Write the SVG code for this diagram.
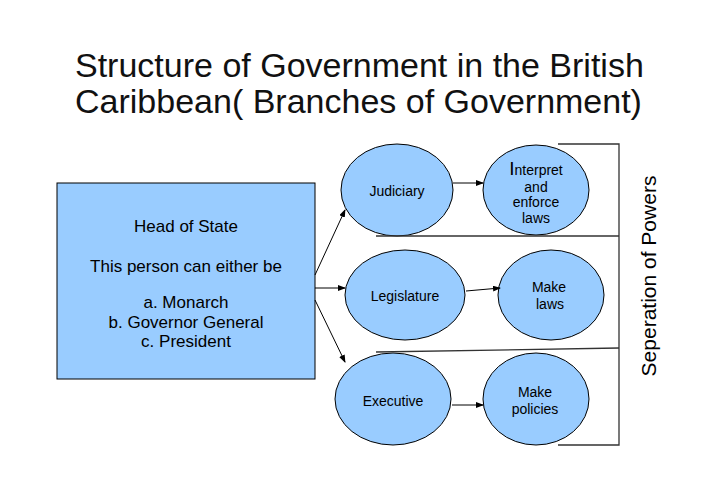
<svg xmlns="http://www.w3.org/2000/svg" width="728" height="485" viewBox="0 0 728 485">
<style>
text{font-family:"Liberation Sans",Arial,sans-serif;fill:#000}
.t{font-size:34px;fill:#111}
.n{font-size:17px;text-anchor:middle}
.s{font-size:14px;text-anchor:middle}
.e{fill:#99ccff;stroke:#000;stroke-width:1}
.c{stroke:#000;stroke-width:1;fill:none;marker-end:url(#a)}
.l{stroke:#333;stroke-width:1.3;fill:none}
</style>
<defs><marker id="a" markerWidth="8" markerHeight="6" refX="7" refY="3" orient="auto" markerUnits="userSpaceOnUse"><path d="M0,0L8,3L0,6z" fill="#000"/></marker></defs>
<rect width="728" height="485" fill="#fff"/>
<text class="t" x="75" y="77">Structure of Government in the British</text>
<text class="t" x="75" y="113">Caribbean( Branches of Government)</text>
<g id="head"><rect x="57" y="183" width="258" height="196" fill="#99ccff" stroke="#000"/>
<text class="n" x="186" y="232">Head of State</text>
<text class="n" x="186" y="272">This person can either be</text>
<text class="n" x="186" y="308">a. Monarch</text>
<text class="n" x="186" y="328">b. Governor General</text>
<text class="n" x="186" y="347">c. President</text></g>
<g id="judiciary"><ellipse class="e" cx="397" cy="190" rx="56" ry="46"/><text class="s" x="397" y="196">Judiciary</text></g>
<g id="interpret"><ellipse class="e" cx="536" cy="190" rx="53" ry="45"/><text class="s" x="536" y="175"><tspan font-size="19">I</tspan>nterpret</text><text class="s" x="536" y="192">and</text><text class="s" x="536" y="207">enforce</text><text class="s" x="536" y="223">laws</text></g>
<g id="legislature"><ellipse class="e" cx="405" cy="295" rx="60" ry="45"/><text class="s" x="405" y="301">Legislature</text></g>
<g id="makelaws"><ellipse class="e" cx="551" cy="295" rx="53" ry="45"/><text class="s" x="549" y="292">Make</text><text class="s" x="550" y="309">laws</text></g>
<g id="executive"><ellipse class="e" cx="393" cy="399" rx="58" ry="46"/><text class="s" x="393" y="406">Executive</text></g>
<g id="policies"><ellipse class="e" cx="536" cy="399" rx="53" ry="46"/><text class="s" x="535" y="397">Make</text><text class="s" x="535" y="414">policies</text></g>
<g id="connectors">
<path class="c" d="M315,275L345,210"/>
<path class="c" d="M315,288L345,288"/>
<path class="c" d="M315,300L345,362"/>
<path class="c" d="M453,183L483,183"/>
<path class="c" d="M466,291L500,288"/>
<path class="c" d="M452,405L483,405"/>
</g>
<g id="bracket">
<path class="l" d="M558,144H619V445H558"/>
<path class="l" d="M376,236H619"/>
<path class="l" d="M376,352L619,348"/>
<text font-size="21" text-anchor="middle" transform="translate(656,276) rotate(-90)">Seperation of Powers</text>
</g>
</svg>
